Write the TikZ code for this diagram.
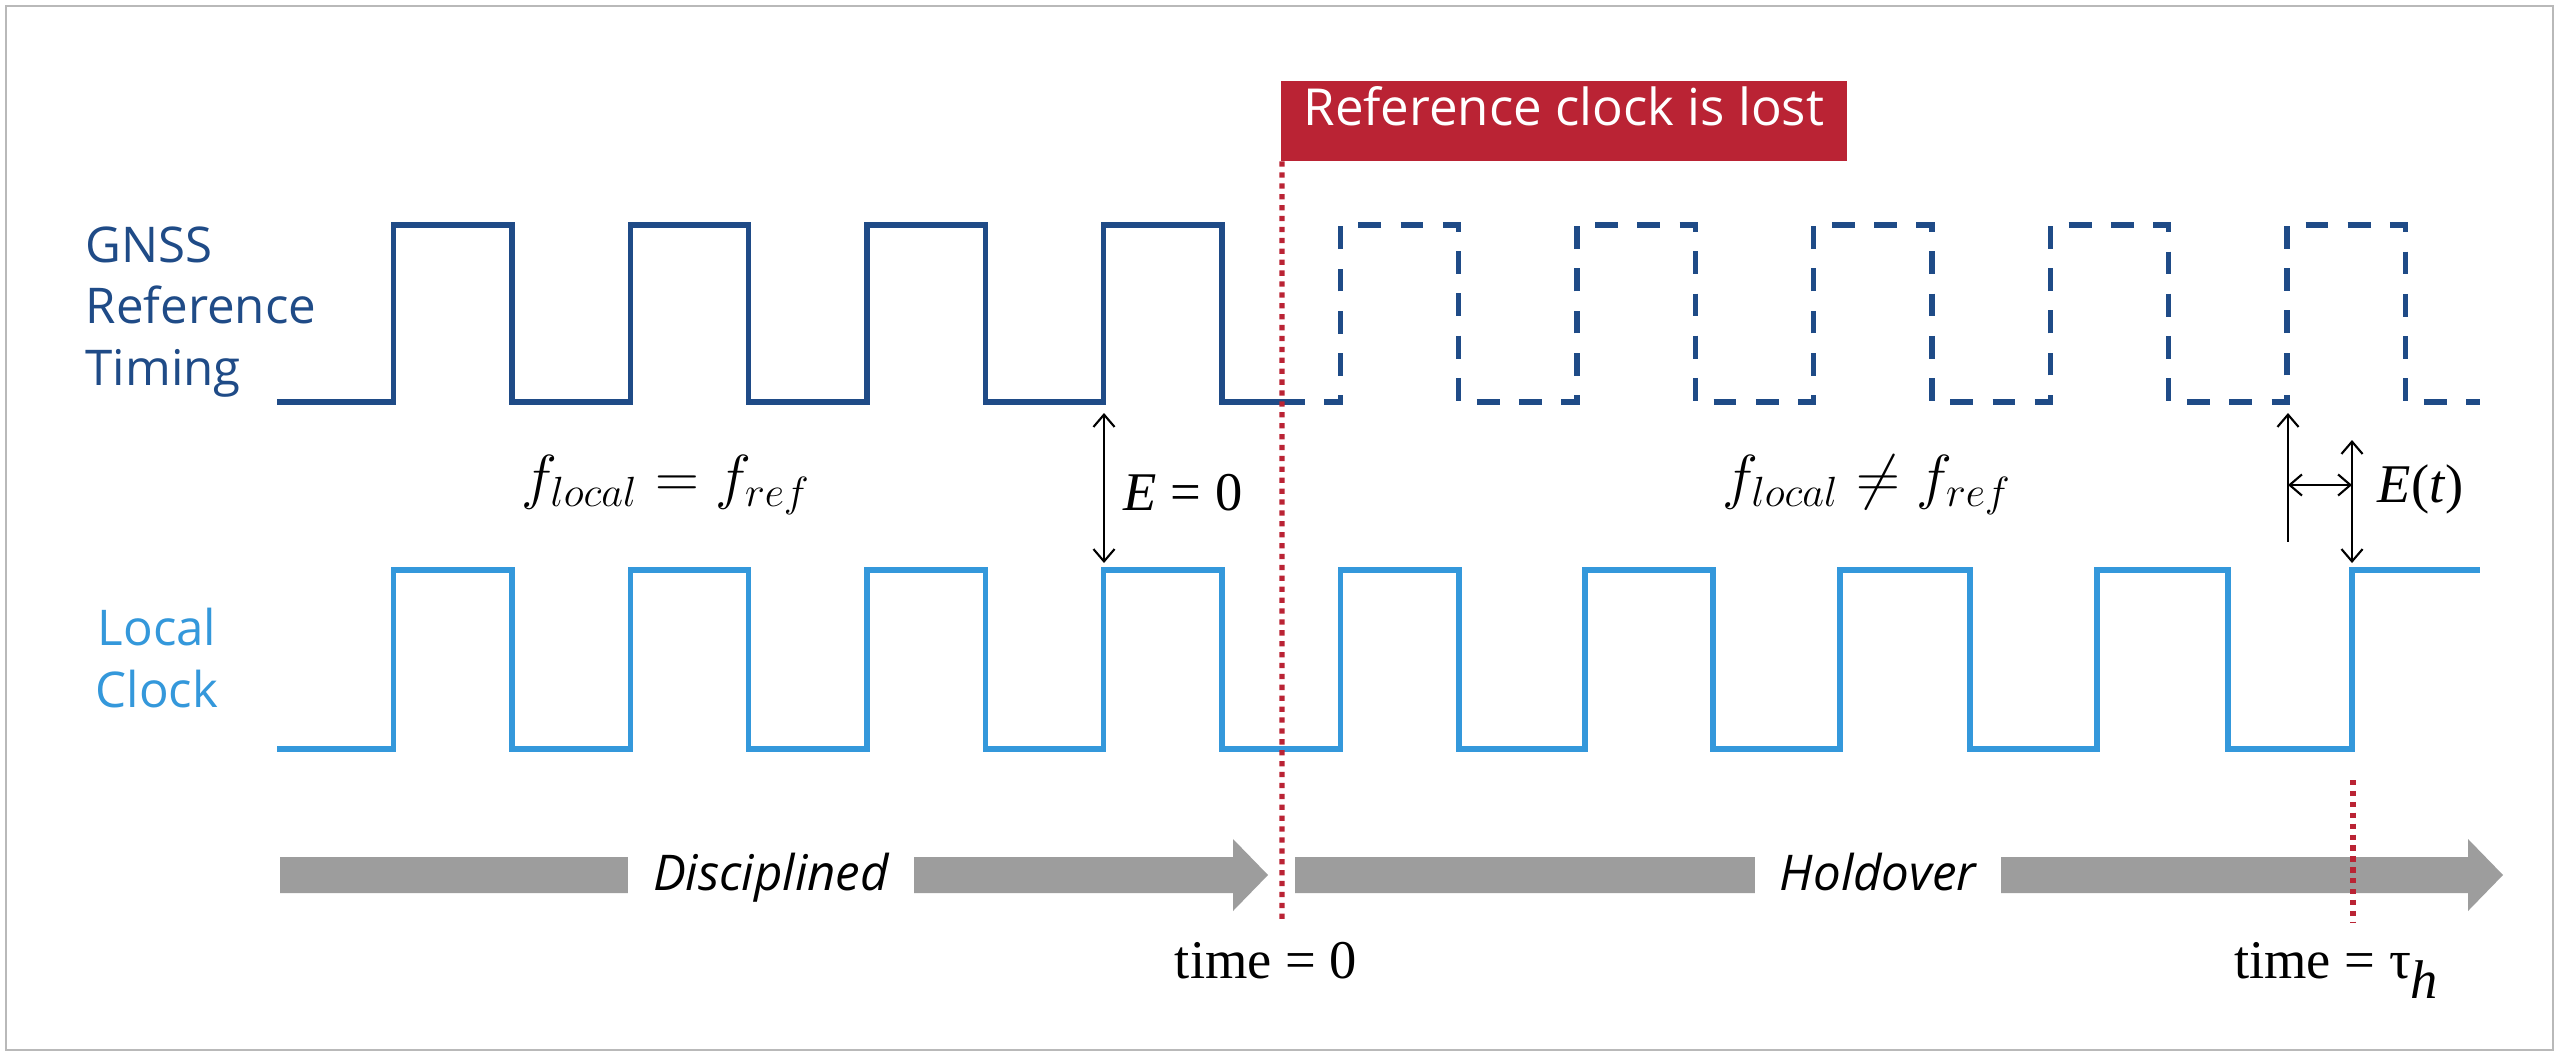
\documentclass[tikz,border=0pt]{standalone}
\usepackage{fontspec}
\usetikzlibrary{arrows.meta}
\newfontfamily\labelfont{Open Sans}
\newfontfamily\timesfont{Liberation Serif}
\definecolor{gnssblue}{RGB}{31,75,135}
\definecolor{localblue}{RGB}{52,152,219}
\definecolor{lostred}{RGB}{186,35,52}
\definecolor{bargray}{RGB}{157,157,157}
\definecolor{framegray}{RGB}{185,185,185}

\begin{document}
\begin{tikzpicture}[x=0.01cm, y=-0.01cm, >={Straight Barb[length=3.5pt,width=6pt]}]
    \tikzset{
      wave/.style={line width=1.5pt},
      lostline/.style={lostred, line width=1.5pt, dash pattern=on 1.5pt off 1.6pt},
      errarrow/.style={line width=0.6pt},
      sidelabel/.style={inner sep=0, font=\labelfont\fontsize{14}{17.35}\selectfont},
      mathlabel/.style={inner sep=0, font=\fontsize{17}{20}\selectfont},
      timelabel/.style={inner sep=0, font=\timesfont\fontsize{15.5}{18}\selectfont},
      phase/.style={fill=white, inner xsep=7pt, inner ysep=2pt,
                    font=\labelfont\itshape\fontsize{14}{17}\selectfont},
      lostbox/.style={fill=lostred, text=white, inner sep=0, minimum width=5.66cm,
                      text height=0.45cm, text depth=0.35cm,
                      font=\labelfont\fontsize{14.5}{17}\selectfont}
    }
    % frame
    \useasboundingbox (0,0) rectangle (2560,1057);
    \fill[white] (0,0) rectangle (2560,1057);
    \draw[framegray, line width=0.6pt] (6,6) rectangle (2553,1050);
    % side labels
    \node[sidelabel, anchor=base west, align=left, text=gnssblue] (gnss) at (85,385)
      {GNSS\\Reference\\Timing};
    \node[sidelabel, anchor=base, align=center, text=localblue] (local) at (157,707)
      {Local\\Clock};
    % reference timing, solid then dashed
    \draw[wave, gnssblue] (277,402)
      \foreach \k in {0,...,3} {
        -- ({393.5+236.7*\k},402) -- ({393.5+236.7*\k},225)
        -- ({511.9+236.7*\k},225) -- ({511.9+236.7*\k},402)
      } -- (1305,402);
    \draw[wave, gnssblue, dash pattern=on 6.5pt off 5.5pt, dash phase=6.5pt] (1305,402)
      \foreach \k in {4,...,8} {
        -- ({393.5+236.7*\k},402) -- ({393.5+236.7*\k},225)
        -- ({511.9+236.7*\k},225) -- ({511.9+236.7*\k},402)
      } -- (2480,402);
    % local clock
    \draw[wave, localblue] (277,749)
      \foreach \r/\f in {393.5/511.9, 630.2/748.6, 866.9/985.3, 1103.6/1222,
                         1340.7/1459, 1585/1713, 1840/1970, 2097/2228} {
        -- (\r,749) -- (\r,570) -- (\f,570) -- (\f,749)
      } -- (2352,749) -- (2352,570) -- (2480,570);
    % frequency labels
    \node[mathlabel, anchor=base] (feq) at (666,497) {$f_{local} = f_{ref}$};
    \node[mathlabel, anchor=base] (fneq) at (1867,497) {$f_{local} \neq f_{ref}$};
    % error arrows
    \coordinate (g3) at (1104,413);
    \coordinate (l3) at (1104,563);
    \draw[errarrow, <->] (g3) -- (l3);
    \node[timelabel, anchor=base west] (ezero) at (1123,510) {\textit{E} = 0};
    \coordinate (g8) at (2288,413);
    \coordinate (g8end) at (2288,542);
    \coordinate (l8top) at (2352,440);
    \coordinate (l8) at (2352,563);
    \coordinate (etl) at (2288,485);
    \coordinate (etr) at (2352,485);
    \draw[errarrow, <-] (g8) -- (g8end);
    \draw[errarrow, <->] (l8top) -- (l8);
    \draw[errarrow, <->] (etl) -- (etr);
    \node[timelabel, anchor=base west] (et) at (2377,502) {\textit{E}(\textit{t})};
    % phase bars
    \foreach \a/\b in {280/1233, 1295/2468} {
      \fill[bargray] (\a,857) -- (\b,857) -- (\b,839) -- (\b+35,875)
        -- (\b,911) -- (\b,893) -- (\a,893) -- cycle;
    }
    \node[phase, anchor=base] (disc) at (771,890) {Disciplined};
    \node[phase, anchor=base] (hold) at (1878,890) {Holdover};
    % loss of reference
    \node[lostbox, anchor=north west] (lost) at (1280,80) {Reference clock is lost};
    \coordinate (t0) at (1282,922);
    \coordinate (thtop) at (2353,780);
    \coordinate (th) at (2353,922);
    \draw[lostline] ([xshift=0.02cm]lost.south west) -- (t0);
    \draw[lostline] (thtop) -- (th);
    \node[timelabel, anchor=base] (time0) at (1266,978) {time = 0};
    \node[timelabel, anchor=base] (timeh) at (2337,978) {time = τ$_{\textit{h}}$};
  \end{tikzpicture}
\end{document}
